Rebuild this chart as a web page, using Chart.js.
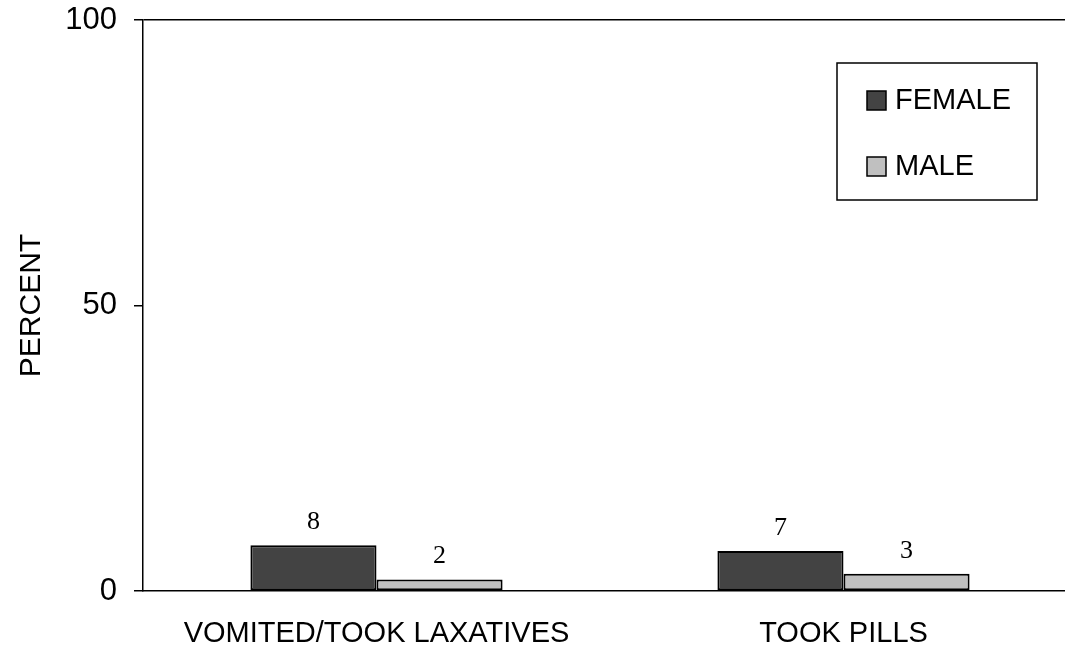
<!DOCTYPE html>
<html>
<head>
<meta charset="utf-8">
<script src="https://cdn.jsdelivr.net/npm/chart.js@4.4.1/dist/chart.umd.min.js"></script>
<style>
  html, body { margin: 0; padding: 0; background: #fff; overflow: hidden; }
  #wrap { width: 1065px; height: 647px; overflow: hidden; position: relative; }
  canvas { display: block; }
</style>
</head>
<body>
<div id="wrap"><canvas id="chart" width="1077" height="647"></canvas></div>
<script>
const categories = ['VOMITED/TOOK LAXATIVES', 'TOOK PILLS'];
const female = [8, 7];
const male = [2, 3];
const yTicks = [0, 50, 100];

// numbers over each bar, in a serif face
const valueLabels = {
    id: 'valueLabels',
    afterDatasetsDraw(chart) {
        const ctx = chart.ctx;
        ctx.save();
        ctx.font = '26px "Liberation Serif", "Times New Roman", serif';
        ctx.fillStyle = '#000';
        ctx.textAlign = 'center';
        ctx.textBaseline = 'bottom';
        chart.data.datasets.forEach((ds, i) => {
            chart.getDatasetMeta(i).data.forEach((bar, j) => {
                ctx.fillText(String(ds.data[j]), bar.x, bar.y - 10);
            });
        });
        ctx.restore();
    }
};

// boxed legend inside the plot, top right
const boxLegend = {
    id: 'boxLegend',
    afterDraw(chart) {
        const ctx = chart.ctx;
        ctx.save();
        ctx.strokeStyle = '#000';
        ctx.lineWidth = 1.5;
        ctx.fillStyle = '#fff';
        ctx.fillRect(837, 63, 200, 137);
        ctx.strokeRect(837, 63, 200, 137);
        ctx.font = '29px "Liberation Sans", Arial, sans-serif';
        ctx.textBaseline = 'middle';
        ctx.textAlign = 'left';
        chart.data.datasets.forEach((ds, i) => {
            const cy = 100 + i * 66;
            ctx.fillStyle = ds.backgroundColor;
            ctx.fillRect(867, cy - 9, 19, 19);
            ctx.lineWidth = 1.5;
            ctx.strokeRect(867, cy - 9, 19, 19);
            ctx.fillStyle = '#000';
            ctx.fillText(ds.label, 895, cy + 1);
        });
        ctx.restore();
    }
};

new Chart(document.getElementById('chart').getContext('2d'), {
    type: 'bar',
    data: {
        labels: categories,
        datasets: [{
            label: 'FEMALE',
            data: female,
            backgroundColor: '#434343',
            borderColor: '#000',
            borderWidth: 2,
            borderSkipped: false
        }, {
            label: 'MALE',
            data: male,
            backgroundColor: '#c0c0c0',
            borderColor: '#000',
            borderWidth: 2,
            borderSkipped: false
        }]
    },
    options: {
        responsive: false,
        animation: false,
        layout: { padding: { top: 20, right: 0, bottom: 0, left: 0 } },
        categoryPercentage: 0.54,
        barPercentage: 1,
        plugins: {
            legend: { display: false },
            tooltip: { enabled: false }
        },
        scales: {
            x: {
                grid: { display: false, drawTicks: false },
                border: { color: '#000', width: 1.5 },
                ticks: {
                    color: '#000',
                    padding: 26,
                    font: { family: '"Liberation Sans", Arial, sans-serif', size: 29 }
                },
                afterFit(scale) { scale.height = 56; }
            },
            y: {
                min: 0,
                max: 100,
                afterBuildTicks(scale) {
                    scale.ticks = yTicks.map(v => ({ value: v }));
                },
                afterFit(scale) {
                    scale.width = 143;
                    scale.paddingTop = 0;
                    scale.paddingBottom = 0;
                },
                grid: {
                    color: c => (c.tick && c.tick.value === 100 ? '#000' : 'rgba(0,0,0,0)'),
                    lineWidth: 1.5,
                    tickColor: '#000',
                    tickLength: 9
                },
                border: { color: '#000', width: 1.5 },
                ticks: {
                    color: '#000',
                    padding: 17,
                    font: { family: '"Liberation Sans", Arial, sans-serif', size: 31 }
                },
                title: {
                    display: true,
                    text: 'PERCENT',
                    color: '#000',
                    padding: { top: 14, bottom: 0 },
                    font: { family: '"Liberation Sans", Arial, sans-serif', size: 30 }
                }
            }
        }
    },
    plugins: [valueLabels, boxLegend]
});
</script>
</body>
</html>
